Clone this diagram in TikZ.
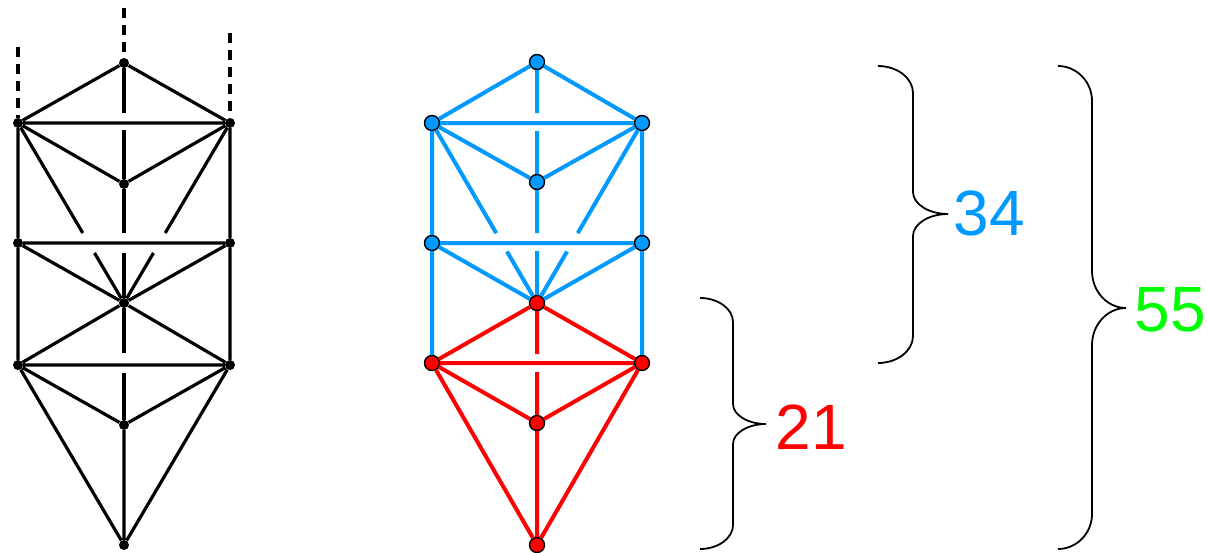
\documentclass[tikz,border=0pt]{standalone}
\usepackage{fontspec}
\setmainfont{Liberation Sans}
\usetikzlibrary{calc}
\definecolor{cblue}{RGB}{0,153,255}
\definecolor{cred}{RGB}{255,0,0}
\definecolor{cgreen}{RGB}{0,255,0}
\newcommand\drawbrace[7]{%
  % #1 x0, #2 ytop, #3 ybot, #4 ycusp, #5 w, #6 h (ends), #7 h2 (cusp)
  \draw[bracel] (#1,#2) .. controls ({#1+0.55*#5},#2) and ({#1+#5},{#2+0.45*#6}) .. ({#1+#5},{#2+#6})
    -- ({#1+#5},{#4-#7}) .. controls ({#1+#5},{#4-0.45*#7}) and ({#1+1.45*#5},#4) .. ({#1+2*#5},#4)
    .. controls ({#1+1.45*#5},#4) and ({#1+#5},{#4+0.45*#7}) .. ({#1+#5},{#4+#7})
    -- ({#1+#5},{#3-#6}) .. controls ({#1+#5},{#3-0.45*#6}) and ({#1+0.55*#5},#3) .. (#1,#3);}
\begin{document}
\begin{tikzpicture}[x=1pt,y=-1pt,
  bdot/.style={circle,fill=black,minimum size=10pt,inner sep=0pt},
  bline/.style={line width=3.2pt,black},
  bdash/.style={line width=3.6pt,black,dash pattern=on 10pt off 7pt},
  bnode/.style={circle,draw=black,line width=1.4pt,fill=cblue,minimum size=15pt,inner sep=0pt},
  rnode/.style={circle,draw=black,line width=1.4pt,fill=cred,minimum size=15pt,inner sep=0pt},
  blu/.style={line width=4pt,cblue},
  rd/.style={line width=4pt,cred},
  bracel/.style={line width=1.8pt,black},
  num/.style={font=\fontsize{64}{64}\selectfont,inner sep=0pt}]
\useasboundingbox (0,0) rectangle (1207,552);
\fill[white] (0,0) rectangle (1207,552);

% ---------- left black figure ----------
\node[bdot] (La) at (124,63) {};
\node[bdot] (LTL) at (18,123) {};
\node[bdot] (LTR) at (230,123) {};
\node[bdot] (Li) at (124,184) {};
\node[bdot] (LML) at (18,243) {};
\node[bdot] (LMR) at (230,243) {};
\node[bdot] (Lc) at (124,303) {};
\node[bdot] (LBL) at (18,365) {};
\node[bdot] (LBR) at (230,365) {};
\node[bdot] (Lj) at (124,425) {};
\node[bdot] (Lb) at (124,545) {};
\coordinate (Ld1) at (124,8);
\coordinate (Ld2) at (18,47);
\coordinate (Ld3) at (230,33);
\coordinate (Lg1) at (124,113);
\coordinate (Lg2) at (124,130);
\coordinate (Lg3) at (124,233);
\coordinate (Lg4) at (124,253);
\coordinate (Lg5) at (124,353);
\coordinate (Lg6) at (124,373);
\coordinate (Lh1) at ($(LTL)!0.611!(Lc)$);
\coordinate (Lh2) at ($(LTL)!0.722!(Lc)$);
\coordinate (Lh3) at ($(LTR)!0.611!(Lc)$);
\coordinate (Lh4) at ($(LTR)!0.722!(Lc)$);
\draw[bdash] (Ld1) -- (La);
\draw[bdash] (Ld2) -- (LTL);
\draw[bdash] (Ld3) -- (LTR);
\draw[bline] (La) -- (LTL) (La) -- (LTR) (LTL) -- (LTR)
  (LTL) -- (Li) (LTR) -- (Li)
  (LTL) -- (LML) (LML) -- (LBL) (LTR) -- (LMR) (LMR) -- (LBR)
  (LML) -- (LMR) (LBL) -- (LBR)
  (LML) -- (Lc) (LMR) -- (Lc) (Lc) -- (LBL) (Lc) -- (LBR)
  (LBL) -- (Lj) (LBR) -- (Lj) (LBL) -- (Lb) (LBR) -- (Lb) (Lj) -- (Lb);
\draw[bline] (La) -- (Lg1) (Lg2) -- (Li) (Li) -- (Lg3) (Lg4) -- (Lc)
  (Lc) -- (Lg5) (Lg6) -- (Lj);
\draw[bline] (LTL) -- (Lh1) (Lh2) -- (Lc) (LTR) -- (Lh3) (Lh4) -- (Lc);

% ---------- coloured figure ----------
\node[bnode] (Ca) at (537,62) {};
\node[bnode] (CTL) at (432,123) {};
\node[bnode] (CTR) at (642,123) {};
\node[bnode] (Ci) at (537,182) {};
\node[bnode] (CML) at (432,243) {};
\node[bnode] (CMR) at (642,243) {};
\node[rnode] (Cc) at (537,303) {};
\node[rnode] (CBL) at (432,363) {};
\node[rnode] (CBR) at (642,363) {};
\node[rnode] (Cj) at (537,423) {};
\node[rnode] (Cb) at (537,545) {};
\coordinate (Cg1) at (537,113);
\coordinate (Cg2) at (537,131);
\coordinate (Cg3) at (537,233);
\coordinate (Cg4) at (537,251);
\coordinate (Cg5) at (537,354);
\coordinate (Cg6) at (537,372);
\coordinate (Ch1) at ($(CTL)!0.612!(Cc)$);
\coordinate (Ch2) at ($(CTL)!0.714!(Cc)$);
\coordinate (Ch3) at ($(CTR)!0.612!(Cc)$);
\coordinate (Ch4) at ($(CTR)!0.714!(Cc)$);
\begin{scope}[on background layer/.style={}]
\draw[blu] (Ca) -- (CTL) (Ca) -- (CTR) (CTL) -- (CTR)
  (CTL) -- (Ci) (CTR) -- (Ci)
  (CTL) -- (CML) (CML) -- (CBL) (CTR) -- (CMR) (CMR) -- (CBR)
  (CML) -- (CMR) (CML) -- (Cc) (CMR) -- (Cc)
  (Ca) -- (Cg1) (Cg2) -- (Ci) (Ci) -- (Cg3) (Cg4) -- (Cc)
  (CTL) -- (Ch1) (Ch2) -- (Cc) (CTR) -- (Ch3) (Ch4) -- (Cc);
\draw[rd] (Cc) -- (CBL) (Cc) -- (CBR) (CBL) -- (CBR)
  (CBL) -- (Cj) (CBR) -- (Cj) (CBL) -- (Cb) (CBR) -- (Cb) (Cj) -- (Cb)
  (Cc) -- (Cg5) (Cg6) -- (Cj);
\end{scope}

% ---------- braces and numbers ----------
\drawbrace{700}{298}{549}{424}{33}{24}{20}
\drawbrace{878}{66}{363}{214}{35}{27}{22}
\drawbrace{1058}{66}{549}{308}{34}{35}{37}
\node[num,text=cred] (n21) at (811,427) {21};
\node[num,text=cblue] (n34) at (989,213) {34};
\node[num,text=cgreen] (n55) at (1170,310) {55};
\end{tikzpicture}
\end{document}
